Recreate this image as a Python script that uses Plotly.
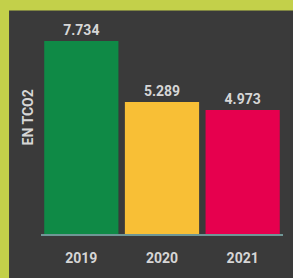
import plotly.graph_objects as go

years = ["2019", "2020", "2021"]
values = [7.734, 5.289, 4.973]
labels = ["7.734", "5.289", "4.973"]
colors = ["#0f8a46", "#f8bf36", "#e6004e"]
y_title = "EN TCO2"

BORDER = "#c3d04a"
DARK = "#3a3a3a"
TXT = "#d6d6d6"

fig = go.Figure(go.Bar(
    x=years, y=values, text=labels, textposition="outside",
    marker=dict(color=colors, line=dict(width=0)),
    textfont=dict(family="Roboto", size=14, color=TXT, weight=700),
    cliponaxis=False, width=0.92, hoverinfo="skip",
))

fig.update_layout(
    width=293, height=278,
    margin=dict(l=41, r=10, t=10, b=44),
    paper_bgcolor=DARK, plot_bgcolor=DARK,
    showlegend=False,
    shapes=[
        dict(type="rect", xref="paper", yref="paper",
             x0=-0.4, x1=-0.132, y0=-0.5, y1=1.5,
             fillcolor=BORDER, line=dict(width=0), layer="below"),
        dict(type="rect", xref="paper", yref="paper",
             x0=-0.4, x1=1.5, y0=0.998, y1=1.5,
             fillcolor=BORDER, line=dict(width=0), layer="below"),
    ],
    annotations=[dict(text=y_title, xref="paper", yref="paper",
                      x=-0.054, y=0.52, xanchor="center", yanchor="middle",
                      textangle=-90, showarrow=False,
                      font=dict(family="Roboto", size=14, color=TXT, weight=700))],
    xaxis=dict(showline=True, linecolor="#6f9796", linewidth=1.5,
               ticks="outside", ticklen=10, tickcolor=DARK,
               tickfont=dict(family="Roboto", size=14, color=TXT, weight=700),
               showgrid=False, fixedrange=True),
    yaxis=dict(range=[0, 8.98], visible=False, showgrid=False, zeroline=False,
               fixedrange=True),
)

fig.write_html("out.html", config={"displayModeBar": False},
               post_script="document.body.style.margin='0';document.body.style.overflow='hidden';")
